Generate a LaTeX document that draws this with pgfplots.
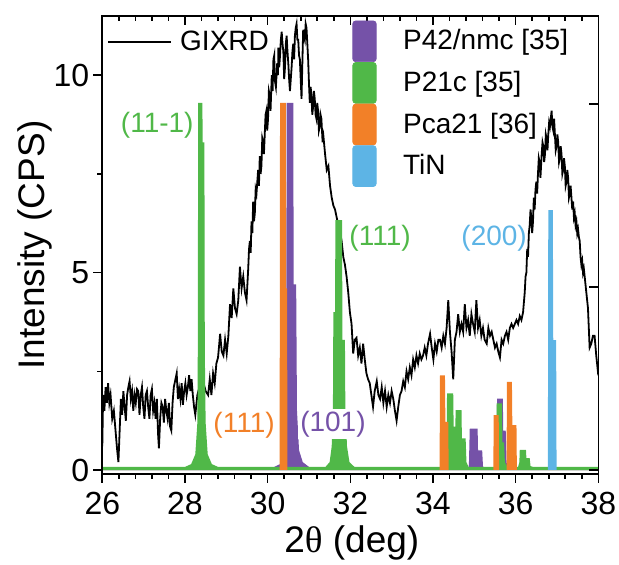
\documentclass[border=0pt]{standalone}
\usepackage{fontspec}
\setmainfont{Liberation Sans}
\newfontfamily\symfont{Liberation Serif}
\usepackage{pgfplots}
\pgfplotsset{compat=1.18}
\definecolor{cpur}{RGB}{117,82,168}
\definecolor{cgrn}{RGB}{80,184,72}
\definecolor{corg}{RGB}{242,128,40}
\definecolor{cblu}{RGB}{93,180,229}
\begin{document}
\begin{tikzpicture}
\useasboundingbox (-51.15pt,-45.5pt) rectangle (258.35pt,237pt);
\begin{axis}[
 at={(0,0)}, anchor=south west,
 scale only axis, width=248pt, height=229pt,
 xmin=26, xmax=38, ymin=-0.1, ymax=11.5,
 xtick={26,28,...,38}, ytick={0,5,10},
 minor x tick num=4, minor y tick num=1,
 tick align=outside, xtick pos=left, ytick pos=left,
 major tick length=4.5pt, minor tick length=2.5pt,
 axis line style={line width=0.8pt},
 every tick/.style={line width=0.8pt, black},
 tick label style={font=\fontsize{16}{19}\selectfont},
 xticklabel style={yshift=-1.2pt},
 yticklabel style={xshift=1.5pt},
 /pgf/number format/assume math mode=true,
 xlabel={2{\symfont θ} (deg)}, ylabel={Intensity (CPS)},
 label style={font=\fontsize{18.5}{22}\selectfont},
 xlabel style={at={(axis description cs:0.503,-0.151)}, anchor=center},
 ylabel style={at={(axis description cs:-0.1357,0.5)}, anchor=center},
 legend style={at={(axis description cs:0.0095,0.943)}, anchor=west, draw=none, fill=none,
   font=\fontsize{14}{17}\selectfont, inner sep=0pt, nodes={inner sep=0pt}, column sep=4pt},
 legend image code/.code={\draw[#1] (0pt,0pt) -- (31.5pt,0pt);},
]
\addplot[black, line width=0.9pt, mark=none] coordinates {
(26.00,0.6) (26.02,1.9) (26.05,1.5) (26.08,2.1) (26.11,1.7) (26.14,2.2) (26.17,1.7) (26.20,1.9)
(26.24,1.3) (26.28,1.5) (26.32,1.0) (26.36,0.5) (26.39,0.2) (26.42,1.0) (26.45,1.8) (26.48,1.4)
(26.51,2.0) (26.54,1.6) (26.57,1.25) (26.60,1.9) (26.63,2.1) (26.66,2.25) (26.69,1.8) (26.72,2.0)
(26.75,1.5) (26.78,1.9) (26.81,1.7) (26.84,2.05) (26.87,2.0) (26.90,1.4) (26.93,1.9) (26.96,2.1)
(26.99,1.6) (27.02,1.3) (27.05,1.9) (27.08,2.0) (27.11,1.6) (27.14,1.3) (27.17,1.9) (27.20,2.05)
(27.23,1.5) (27.26,1.7) (27.29,1.3) (27.32,1.8) (27.35,0.9) (27.37,0.55) (27.40,1.3) (27.43,1.7)
(27.46,1.6) (27.49,1.2) (27.52,1.8) (27.55,1.5) (27.58,1.3) (27.61,1.7) (27.64,1.1) (27.67,1.0)
(27.70,1.7) (27.73,2.1) (27.77,2.3) (27.80,2.45) (27.83,1.8) (27.86,2.05) (27.89,1.8) (27.92,2.2)
(27.95,1.65) (27.98,2.0) (28.01,2.2) (28.04,1.9) (28.07,2.1) (28.10,2.4) (28.13,2.0) (28.16,2.3)
(28.19,1.9) (28.22,1.6) (28.25,1.4) (28.30,1.9) (28.35,2.1) (28.40,1.8) (28.45,2.2) (28.50,2.0)
(28.56,1.9) (28.60,2.3) (28.64,1.9) (28.68,2.45) (28.72,2.2) (28.76,2.7) (28.80,2.85) (28.83,3.2)
(28.85,3.45) (28.89,3.0) (28.93,2.9) (28.97,3.3) (29.01,2.95) (29.05,3.4) (29.09,4.2) (29.13,3.85)
(29.17,4.6) (29.21,4.1) (29.25,3.95) (29.29,4.3) (29.33,5.15) (29.37,4.6) (29.41,4.9) (29.45,4.5)
(29.49,4.3) (29.53,5.1) (29.55,5.6) (29.57,5.8) (29.59,5.5) (29.61,6.3) (29.63,6.0) (29.65,6.8)
(29.67,6.3) (29.69,6.5) (29.71,7.1) (29.73,7.0) (29.75,7.3) (29.77,7.6) (29.79,7.2) (29.81,7.95)
(29.83,7.5) (29.85,7.7) (29.87,8.4) (29.89,8.3) (29.91,8.0) (29.93,8.5) (29.95,9.0) (29.97,9.1)
(29.99,8.6) (30.01,8.9) (30.03,9.6) (30.05,9.5) (30.07,9.1) (30.10,10.0) (30.12,9.6) (30.14,10.4)
(30.16,10.5) (30.17,9.9) (30.20,9.7) (30.22,10.1) (30.23,10.3) (30.25,10.0) (30.26,10.7) (30.28,10.2)
(30.30,10.5) (30.32,10.9) (30.34,11.1) (30.36,10.8) (30.38,10.6) (30.40,9.9) (30.42,10.2) (30.44,10.8)
(30.46,11.0) (30.48,10.6) (30.50,10.3) (30.52,9.9) (30.54,9.6) (30.56,9.9) (30.58,10.2) (30.60,10.6)
(30.62,10.8) (30.64,10.4) (30.66,11.0) (30.68,11.2) (30.70,11.3) (30.72,10.9) (30.74,10.9) (30.76,10.5)
(30.78,10.4) (30.80,9.9) (30.82,9.4) (30.84,10.3) (30.86,11.15) (30.88,11.0) (30.90,10.9) (30.92,11.3)
(30.94,11.2) (30.96,10.8) (30.98,10.4) (31.00,9.8) (31.02,9.3) (31.04,9.7) (31.06,9.5) (31.08,9.0)
(31.10,9.2) (31.12,9.6) (31.14,9.4) (31.16,9.0) (31.18,8.9) (31.20,9.3) (31.22,9.1) (31.24,8.6)
(31.26,8.7) (31.28,9.0) (31.30,8.9) (31.33,8.3) (31.35,8.45)
(31.39,8.0) (31.43,7.6) (31.47,7.7) (31.51,7.2) (31.55,6.9) (31.59,6.7) (31.63,6.6) (31.67,6.4)
(31.71,6.2) (31.75,6.05) (31.79,5.8) (31.83,5.4) (31.87,5.2) (31.91,4.9) (31.95,4.5) (31.99,4.0)
(32.03,3.7) (32.07,2.95) (32.11,3.3) (32.15,3.35) (32.19,2.9) (32.23,3.1) (32.27,2.7) (32.31,3.2)
(32.35,2.8) (32.39,2.45) (32.43,2.3) (32.47,2.2) (32.51,1.9) (32.55,1.6) (32.59,2.0) (32.64,2.25)
(32.68,1.9) (32.72,1.8) (32.76,2.1) (32.80,1.7) (32.84,2.0) (32.88,1.6) (32.92,1.9) (32.96,1.7)
(33.00,2.0) (33.04,1.8) (33.08,1.5) (33.12,1.25) (33.16,1.6) (33.20,1.9) (33.24,2.0) (33.28,2.25)
(33.32,2.1) (33.36,2.5) (33.40,2.3) (33.44,2.6) (33.48,2.4) (33.52,2.8) (33.56,2.6) (33.60,2.9)
(33.64,2.7) (33.68,2.95) (33.72,2.8) (33.76,2.9) (33.80,3.1) (33.84,2.9) (33.88,3.2) (33.93,3.45)
(33.97,3.1) (34.01,2.8) (34.05,3.2) (34.09,3.0) (34.13,3.3) (34.17,3.3) (34.21,3.1) (34.25,3.4)
(34.29,3.2) (34.33,3.6) (34.37,4.3) (34.41,3.5) (34.45,3.0) (34.49,2.3) (34.53,3.3) (34.57,3.5)
(34.61,3.95) (34.65,3.5) (34.69,3.7) (34.73,3.5) (34.77,4.2) (34.81,3.6) (34.85,3.8) (34.89,3.4)
(34.93,3.95) (34.97,3.7) (35.01,3.5) (35.05,4.3) (35.09,3.6) (35.13,3.8) (35.17,3.4) (35.21,3.6)
(35.25,3.3) (35.30,3.2) (35.34,3.6) (35.38,3.4) (35.42,3.5) (35.46,3.3) (35.50,3.1) (35.54,3.2)
(35.58,3.0) (35.62,2.85) (35.66,3.3) (35.70,3.2) (35.74,3.4) (35.78,3.5) (35.82,3.3) (35.86,3.6)
(35.90,3.7) (35.94,3.6) (35.98,3.7) (36.02,3.8) (36.06,3.7) (36.10,3.9) (36.14,3.8) (36.18,4.0)
(36.22,4.5) (36.24,4.9) (36.26,5.0) (36.28,5.6) (36.30,5.4) (36.32,6.0) (36.34,6.2) (36.36,6.6)
(36.38,6.4) (36.40,6.0) (36.42,6.3) (36.44,6.9) (36.46,6.6) (36.48,7.1) (36.50,7.3) (36.52,7.0)
(36.54,7.5) (36.56,7.9) (36.58,7.8) (36.60,7.4) (36.63,8.0) (36.65,8.3) (36.67,8.2) (36.69,7.8)
(36.71,8.0) (36.73,8.5) (36.75,8.4) (36.77,8.1) (36.79,8.5) (36.81,8.8) (36.83,8.7) (36.85,8.9)
(36.87,9.1) (36.89,8.7) (36.91,8.6) (36.93,8.9) (36.95,8.5) (36.97,8.1) (36.99,8.2) (37.01,8.5)
(37.03,8.3) (37.05,7.8) (37.07,7.9) (37.09,8.2) (37.11,8.0) (37.13,7.5) (37.15,7.6) (37.17,7.9)
(37.19,7.7) (37.21,7.2) (37.23,7.3) (37.25,7.6) (37.27,7.4) (37.29,6.9) (37.31,7.0) (37.33,7.2)
(37.35,6.9) (37.37,6.6) (37.39,6.8) (37.41,6.4) (37.43,6.5) (37.45,6.2) (37.47,6.3) (37.49,6.0)
(37.51,6.1) (37.53,5.9) (37.55,5.8) (37.57,5.4) (37.59,5.2) (37.61,5.3) (37.63,5.0) (37.65,5.1)
(37.67,4.9) (37.69,4.7) (37.71,4.5) (37.73,4.3) (37.75,4.1) (37.77,3.6) (37.79,3.1)
(37.83,3.2) (37.87,3.4) (37.91,3.4) (37.95,2.9) (38.00,2.4)
};
\addlegendentry{GIXRD}
% P42/nmc (purple)
\addplot[fill=cpur, draw=none, forget plot] coordinates {
(26,0) (29.9,0) (30.1,0.05) (30.3,0.15) (30.4,0.5) (30.45,2) (30.46,9.3) (30.62,9.3) (30.63,4.7)
(30.69,4.7) (30.71,1.5) (30.76,0.5) (30.85,0.2) (31.0,0.08) (31.1,0)
(34.85,0) (34.87,0.15) (34.89,1.05) (35.08,1.05) (35.09,0.5) (35.19,0.5) (35.21,0.1) (35.25,0)
(35.51,0) (35.54,0.2) (35.55,1.81) (35.69,1.81) (35.7,1.0) (35.76,1.0) (35.78,0.2) (35.82,0) (38,0)
} \closedcycle;
% P21c (green)
\addplot[fill=cgrn, draw=none, forget plot] coordinates {
(26,0.08) (28.0,0.08) (28.15,0.15) (28.25,0.4) (28.3,1.2) (28.31,3) (28.32,9.3) (28.42,9.3)
(28.43,8.3) (28.47,8.3) (28.48,3) (28.5,1.2) (28.55,0.4) (28.65,0.15) (28.8,0.08)
(31.4,0.08) (31.5,0.2) (31.55,0.6) (31.58,1.6) (31.59,4.0) (31.63,4.0) (31.64,6.33) (31.8,6.33)
(31.81,3.3) (31.87,3.3) (31.88,1.6) (31.92,0.6) (31.98,0.2) (32.1,0.08)
(34.3,0.08) (34.33,0.3) (34.34,1.94) (34.49,1.94) (34.5,1.1) (34.54,1.1) (34.55,1.52) (34.69,1.52)
(34.7,0.8) (34.79,0.8) (34.81,0.2) (34.86,0.08)
(35.5,0.08) (35.53,0.3) (35.54,1.69) (35.67,1.69) (35.68,0.7) (35.72,0.7) (35.74,0.2) (35.8,0.08)
(36.06,0.08) (36.09,0.2) (36.1,0.51) (36.25,0.51) (36.26,0.3) (36.34,0.3) (36.36,0.1) (36.42,0.08) (38,0.08)
} \closedcycle;
% Pca21 (orange)
\addplot[fill=corg, draw=none, forget plot] coordinates {
(26,0) (30.29,0) (30.30,9.3) (30.44,9.3) (30.45,4.6) (30.47,4.6) (30.48,0)
(34.16,0) (34.17,2.4) (34.29,2.4) (34.3,1.22) (34.37,1.22) (34.38,0)
(35.46,0) (35.47,1.39) (35.59,1.39) (35.6,0)
(35.78,0) (35.79,2.23) (35.91,2.23) (35.92,1.14) (36.02,1.14) (36.03,0) (38,0)
} \closedcycle;
% TiN (blue)
\addplot[fill=cblu, draw=none, forget plot] coordinates {
(26,0) (36.78,0) (36.79,6.58) (36.9,6.58) (36.91,3.29) (36.98,3.29) (36.99,0) (38,0)
} \closedcycle;
\node[text=cgrn, font=\fontsize{14}{17}\selectfont] at (axis cs:27.33,8.73) {(11-1)};
\node[text=corg, font=\fontsize{14}{17}\selectfont] at (axis cs:29.43,1.14) {(111)};
\node[text=cpur, font=\fontsize{14}{17}\selectfont, fill=white, inner sep=1pt] at (axis cs:31.58,1.16) {(101)};
\node[text=cgrn, font=\fontsize{14}{17}\selectfont] at (axis cs:32.72,5.87) {(111)};
\node[text=cblu, font=\fontsize{14}{17}\selectfont] at (axis cs:35.48,5.87) {(200)};
\end{axis}
\begin{axis}[
 at={(0,0)}, anchor=south west,
 scale only axis, width=248pt, height=229pt,
 xmin=26, xmax=38, ymin=-1.08, ymax=124.06,
 xtick={26,28,...,38}, ytick={0,50,100},
 minor x tick num=4,
 tick align=inside, xtick pos=right, ytick pos=right,
 xticklabels={}, yticklabels={},
 major tick length=4.5pt, minor tick length=2.5pt,
 axis line style={line width=0.8pt},
 every tick/.style={line width=0.8pt, black},
 legend style={at={(axis description cs:0.5034,0.991)}, anchor=north west, draw=none, fill=none,
   font=\fontsize{14}{17}\selectfont, row sep=0pt, column sep=13.25pt, inner sep=0pt,
   nodes={inner sep=0pt, minimum height=17.12pt}},
 legend cell align=left,
]
\addplot[draw=none, forget plot] coordinates {(26,0)};
\addlegendimage{legend image code/.code={\fill[cpur, rounded corners=1.5pt] (0pt,-10.2pt) rectangle (11.7pt,10.2pt);}}
\addlegendentry{P42/nmc [35]}
\addlegendimage{legend image code/.code={\fill[cgrn, rounded corners=1.5pt] (0pt,-10.2pt) rectangle (11.7pt,10.2pt);}}
\addlegendentry{P21c [35]}
\addlegendimage{legend image code/.code={\fill[corg, rounded corners=1.5pt] (0pt,-10.2pt) rectangle (11.7pt,10.2pt);}}
\addlegendentry{Pca21 [36]}
\addlegendimage{legend image code/.code={\fill[cblu, rounded corners=1.5pt] (0pt,-10.2pt) rectangle (11.7pt,10.2pt);}}
\addlegendentry{TiN}
\end{axis}
\end{tikzpicture}
\end{document}
